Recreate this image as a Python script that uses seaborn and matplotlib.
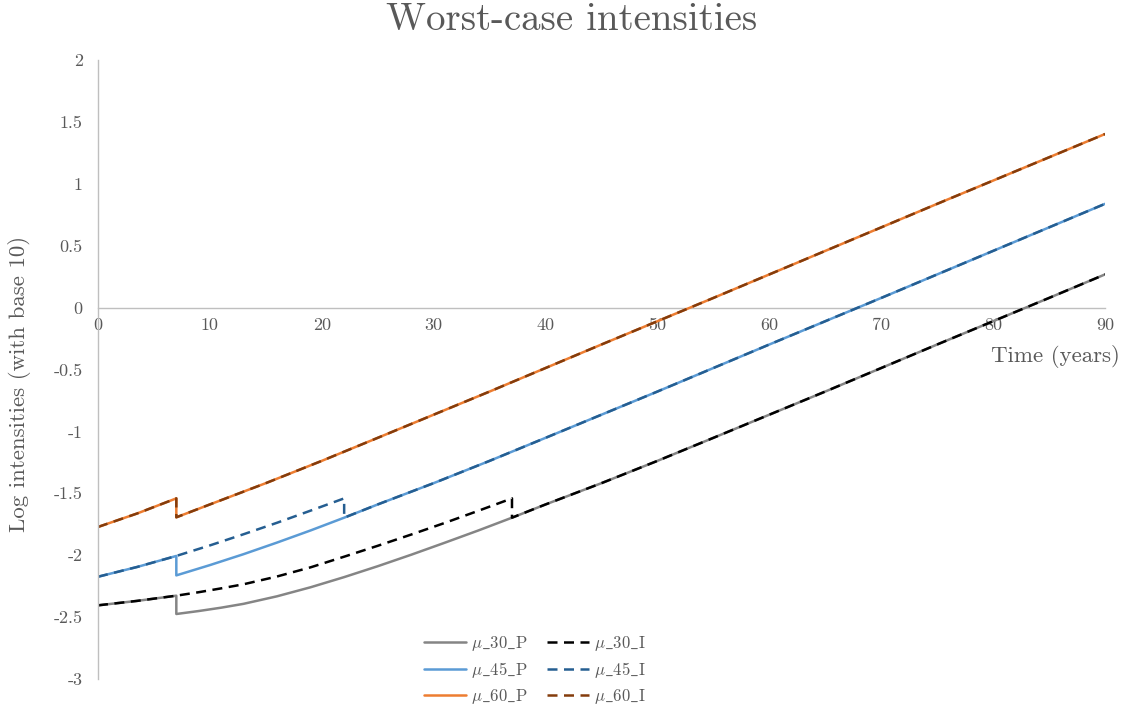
import matplotlib
matplotlib.use("Agg")
import matplotlib.pyplot as plt
import seaborn as sns
import pandas as pd

# ---- data ----
t60 = [0, 3.5, 7, 7, 10, 15, 20, 25, 30, 35, 40, 45, 50, 55, 60, 65, 70, 75, 80, 85, 90]
mu60_P = [-1.772, -1.663, -1.541, -1.694, -1.590, -1.418, -1.238, -1.052, -0.865, -0.678,
          -0.488, -0.298, -0.110, 0.078, 0.268, 0.458, 0.648, 0.838, 1.026, 1.214, 1.402]
mu60_I = [-1.772, -1.663, -1.541, -1.694, -1.590, -1.418, -1.238, -1.052, -0.865, -0.678,
          -0.488, -0.298, -0.110, 0.078, 0.268, 0.458, 0.648, 0.838, 1.026, 1.214, 1.402]

t45 = [0, 3.5, 7, 7, 10, 13, 16, 19, 22, 22, 25, 30, 35, 40, 45, 50, 55, 60, 65, 70, 75, 80, 85, 90]
mu45_P = [-2.174, -2.095, -2.006, -2.163, -2.080, -1.992, -1.898, -1.800, -1.697, -1.697,
          -1.590, -1.418, -1.238, -1.052, -0.865, -0.678, -0.488, -0.298, -0.110, 0.078,
          0.268, 0.458, 0.648, 0.838]
mu45_I = [-2.174, -2.095, -2.006, -2.006, -1.921, -1.831, -1.738, -1.640, -1.541, -1.697,
          -1.590, -1.418, -1.238, -1.052, -0.865, -0.678, -0.488, -0.298, -0.110, 0.078,
          0.268, 0.458, 0.648, 0.838]

t30 = [0, 3.5, 7, 7, 9, 11, 13, 16, 19, 22, 25, 28, 31, 34, 37, 37, 40, 45, 50, 55, 60, 65, 70, 75, 80, 85, 90]
mu30_P = [-2.405, -2.369, -2.327, -2.475, -2.451, -2.424, -2.393, -2.332, -2.259, -2.177, -2.089,
          -1.996, -1.899, -1.800, -1.697, -1.697, -1.590, -1.418, -1.238, -1.052, -0.865,
          -0.678, -0.488, -0.298, -0.110, 0.078, 0.268]
mu30_I = [-2.405, -2.369, -2.327, -2.327, -2.299, -2.268, -2.235, -2.172, -2.098, -2.012, -1.924,
          -1.833, -1.739, -1.641, -1.541, -1.697, -1.590, -1.418, -1.238, -1.052, -0.865,
          -0.678, -0.488, -0.298, -0.110, 0.078, 0.268]

series_names = ["μ_30_P", "μ_30_I", "μ_45_P", "μ_45_I", "μ_60_P", "μ_60_I"]
series_t = [t30, t30, t45, t45, t60, t60]
series_v = [mu30_P, mu30_I, mu45_P, mu45_I, mu60_P, mu60_I]

yticks = [2, 1.5, 1, 0.5, 0, -0.5, -1, -1.5, -2, -2.5, -3]
ytick_labels = ["2", "1.5", "1", "0.5", "0", "-0.5", "-1", "-1.5", "-2", "-2.5", "-3"]
xticks = [0, 10, 20, 30, 40, 50, 60, 70, 80, 90]
xtick_labels = ["0", "10", "20", "30", "40", "50", "60", "70", "80", "90"]

# ---- style ----
colors = {"μ_30_P": "#858585", "μ_30_I": "#000000",
          "μ_45_P": "#5B9BD5", "μ_45_I": "#255E91",
          "μ_60_P": "#ED7D31", "μ_60_I": "#843C0C"}
dash = (0, (4.0, 2.6))

sns.set_theme(style="white")
FONT = ["cmr10", "DejaVu Serif"]
plt.rcParams["font.family"] = FONT
plt.rcParams["axes.unicode_minus"] = False
plt.rcParams["mathtext.fontset"] = "cm"
TXT = "#595959"

fig = plt.figure(figsize=(11.28, 7.09), dpi=100)
ax = fig.add_axes([98 / 1128, 1 - 679 / 709, (1105 - 98) / 1128, (679 - 60) / 709])

handles = {}
for name, tt, vv in zip(series_names, series_t, series_v):
    df = pd.DataFrame({"time": tt, "value": vv})
    ls = "-" if name.endswith("_P") else dash
    sns.lineplot(data=df, x="time", y="value", ax=ax, estimator=None, sort=False,
                 color=colors[name], linewidth=1.8, linestyle=ls, legend=False)
    handles[name] = ax.get_lines()[-1]

ax.set_xlim(0, 90)
ax.set_ylim(-3, 2)
for s in ["top", "right"]:
    ax.spines[s].set_visible(False)
ax.spines["bottom"].set_position(("data", 0))
ax.spines["left"].set_position(("data", 0))
for s in ["bottom", "left"]:
    ax.spines[s].set_color("#BFBFBF")
    ax.spines[s].set_linewidth(1.0)
ax.spines["bottom"].set_zorder(0)

ax.set_xticks(xticks)
ax.set_xticklabels(xtick_labels)
ax.set_yticks(yticks)
ax.set_yticklabels(ytick_labels)
ax.tick_params(axis="both", length=0, labelsize=13, labelcolor=TXT)
ax.tick_params(axis="x", pad=7)
ax.tick_params(axis="y", pad=11)
ax.set_xlabel("")
ax.set_ylabel("")
ax.grid(False)

fig.text(572 / 1128, 1 - 20 / 709, "Worst-case intensities", ha="center", va="center",
         fontsize=28, color=TXT)
fig.text(20 / 1128, 1 - 384 / 709, "Log intensities (with base 10)", ha="center", va="center",
         rotation=90, fontsize=16.5, color=TXT)
fig.text(1120 / 1128, 1 - 357 / 709, "Time (years)", ha="right", va="center",
         fontsize=16.5, color=TXT)

order = ["μ_30_P", "μ_45_P", "μ_60_P", "μ_30_I", "μ_45_I", "μ_60_I"]
leg_labels = [r"$\mathrm{\mu\_" + n[2:4] + r"\_" + n[5] + "}$" for n in order]
leg = fig.legend([handles[n] for n in order], leg_labels, loc="center", ncol=2,
                 bbox_to_anchor=(535 / 1128, 1 - 670 / 709), frameon=False,
                 handlelength=2.5, handletextpad=0.3, columnspacing=1.2,
                 labelspacing=0.42, prop={"family": FONT, "size": 12})
for txt in leg.get_texts():
    txt.set_color(TXT)

fig.savefig("out.png", dpi=100, facecolor="white")
